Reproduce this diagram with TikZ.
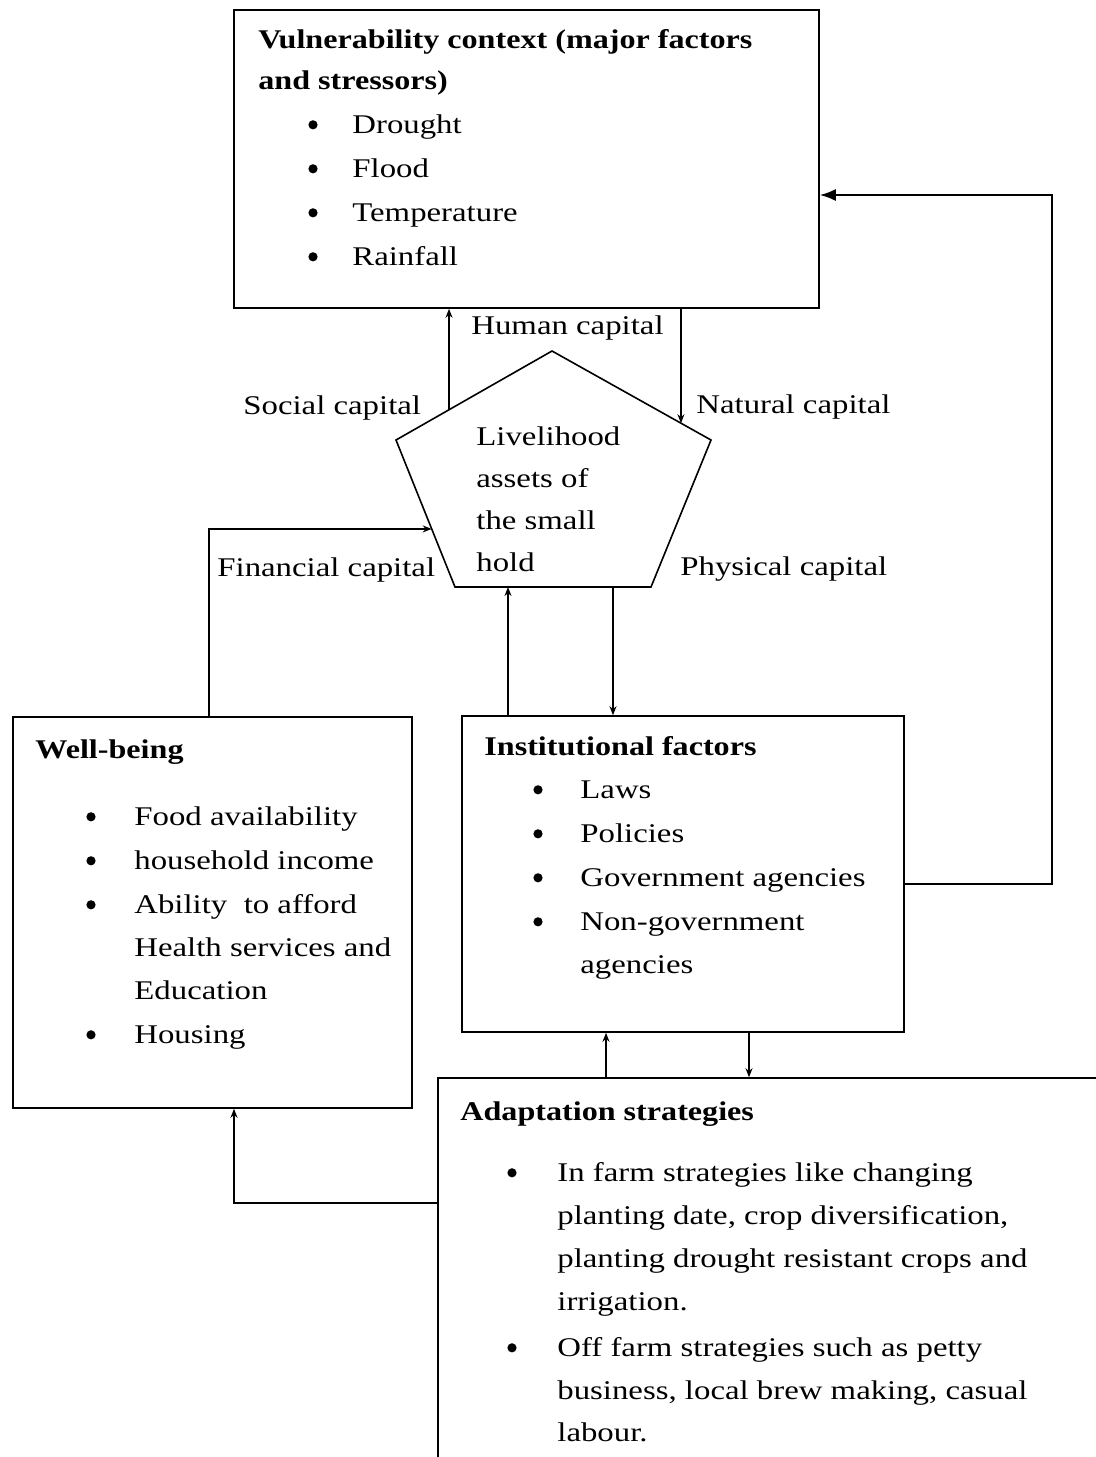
\documentclass[tikz,border=0pt]{standalone}
\usepackage{fontspec}
\setmainfont{Liberation Serif}[FakeStretch=1.215,BoldFeatures={FakeStretch=1.19}]
\usetikzlibrary{arrows.meta,calc}
\begin{document}
\begin{tikzpicture}[x=0.5pt,y=-0.5pt,
  txt/.style={anchor=base west,inner sep=0pt,font=\fontsize{13.5}{16}\selectfont},
  ttl/.style={anchor=base west,inner sep=0pt,font=\fontsize{13.5}{16}\selectfont\bfseries},
  bul/.style={circle,fill=black,inner sep=0pt,minimum size=4.6pt,yshift=3.6pt},
  box/.style={draw,line width=0.8pt,inner sep=0pt},
  conn/.style={line width=0.9pt},
  arr/.style={conn,-{Stealth[length=4.5pt,width=3.5pt]}},
  bigarr/.style={conn,-{Latex[length=8pt,width=6pt]}}]
\clip (0,0) rectangle (1096,1457);
\useasboundingbox (0,0) rectangle (1096,1457);

% boxes
\node[box,minimum width=292.5pt,minimum height=149pt] (vul) at (526.5,159) {};
\node[box,minimum width=199.5pt,minimum height=195.5pt] (wb) at (212.5,912.5) {};
\node[box,minimum width=221pt,minimum height=158pt] (inst) at (683,874) {};
\node[box,minimum width=346pt,minimum height=211pt] (adapt) at (784,1289) {};

% pentagon
\coordinate (pT) at (552,351);
\coordinate (pR) at (711,440);
\coordinate (pBR) at (651,587);
\coordinate (pBL) at (455,587);
\coordinate (pL) at (396,440);
\draw[line width=0.8pt] (pT) -- (pR) -- (pBR) -- (pBL) -- (pL) -- cycle;

% connector helpers
\coordinate (e1) at ($(pL)!0.34!(pT)$);
\coordinate (e2) at ($(pT)!0.811!(pR)$);
\coordinate (e3) at ($(pL)!0.605!(pBL)$);
\coordinate (b1) at (508,587);
\coordinate (b2) at (613,587);
\coordinate (c209) at (209,0);
\coordinate (c234) at (234,0);
\coordinate (c606) at (606,0);
\coordinate (c749) at (749,0);
\coordinate (c1052) at (1052,0);
\coordinate (r195) at (0,195);
\coordinate (r884) at (0,884);
\coordinate (r1203) at (0,1203);

% connectors
\draw[arr] (e1) -- (e1 |- vul.south);
\draw[arr] (e2 |- vul.south) -- (e2);
\draw[arr] (c209 |- wb.north) |- (e3);
\draw[arr] (b1 |- inst.north) -- (b1);
\draw[arr] (b2) -- (b2 |- inst.north);
\draw[bigarr] (inst.east |- r884) -| (c1052 |- r195) -- (vul.east |- r195);
\draw[arr] (c606 |- adapt.north) -- (c606 |- inst.south);
\draw[arr] (c749 |- inst.south) -- (c749 |- adapt.north);
\draw[arr] (adapt.west |- r1203) -| (c234 |- wb.south);

% vulnerability box text
\node[ttl] (v0) at (258,48) {Vulnerability context (major factors};
\node[ttl] (v1) at (258,89) {and stressors)};
\node[bul] (vb1) at (313,132) {};
\node[txt] (v2) at (352,133) {Drought};
\node[bul] (vb2) at (313,176) {};
\node[txt] (v3) at (352,177) {Flood};
\node[bul] (vb3) at (313,220) {};
\node[txt] (v4) at (352,221) {Temperature};
\node[bul] (vb4) at (313,264) {};
\node[txt] (v5) at (352,265) {Rainfall};

% capital labels
\node[txt] (lh) at (471,334) {Human capital};
\node[txt] (ls) at (243,414) {Social capital};
\node[txt] (ln) at (696,413) {Natural capital};
\node[txt] (lf) at (217,576) {Financial capital};
\node[txt] (lp) at (680,575) {Physical capital};

% pentagon text
\node[txt] (p1) at (476,445) {Livelihood};
\node[txt] (p2) at (476,487) {assets of};
\node[txt] (p3) at (476,529) {the small};
\node[txt] (p4) at (476,571) {hold};

% well-being
\node[ttl] (w0) at (35,758) {Well-being};
\node[bul] (wb1) at (91,824) {};
\node[txt] (w1) at (134,825) {Food availability};
\node[bul] (wb2) at (91,868) {};
\node[txt] (w2) at (134,869) {household income};
\node[bul] (wb3) at (91,912) {};
\node[txt] (w3) at (134,913) {Ability\ \ to afford};
\node[txt] (w4) at (134,956) {Health services and};
\node[txt] (w5) at (134,999) {Education};
\node[bul] (wb4) at (91,1042) {};
\node[txt] (w6) at (134,1043) {Housing};

% institutional
\node[ttl] (i0) at (484,755) {Institutional factors};
\node[bul] (ib1) at (538,797) {};
\node[txt] (i1) at (580,798) {Laws};
\node[bul] (ib2) at (538,841) {};
\node[txt] (i2) at (580,842) {Policies};
\node[bul] (ib3) at (538,885) {};
\node[txt] (i3) at (580,886) {Government agencies};
\node[bul] (ib4) at (538,929) {};
\node[txt] (i4) at (580,930) {Non-government};
\node[txt] (i5) at (580,973) {agencies};

% adaptation
\node[ttl] (a0) at (460,1120) {Adaptation strategies};
\node[bul] (ab1) at (512,1180) {};
\node[txt] (a1) at (557,1181) {In farm strategies like changing};
\node[txt] (a2) at (557,1224) {planting date, crop diversification,};
\node[txt] (a3) at (557,1267) {planting drought resistant crops and};
\node[txt] (a4) at (557,1310) {irrigation.};
\node[bul] (ab2) at (512,1355) {};
\node[txt] (a5) at (557,1356) {Off farm strategies such as petty};
\node[txt] (a6) at (557,1399) {business, local brew making, casual};
\node[txt] (a7) at (557,1441) {labour.};
\end{tikzpicture}
\end{document}
